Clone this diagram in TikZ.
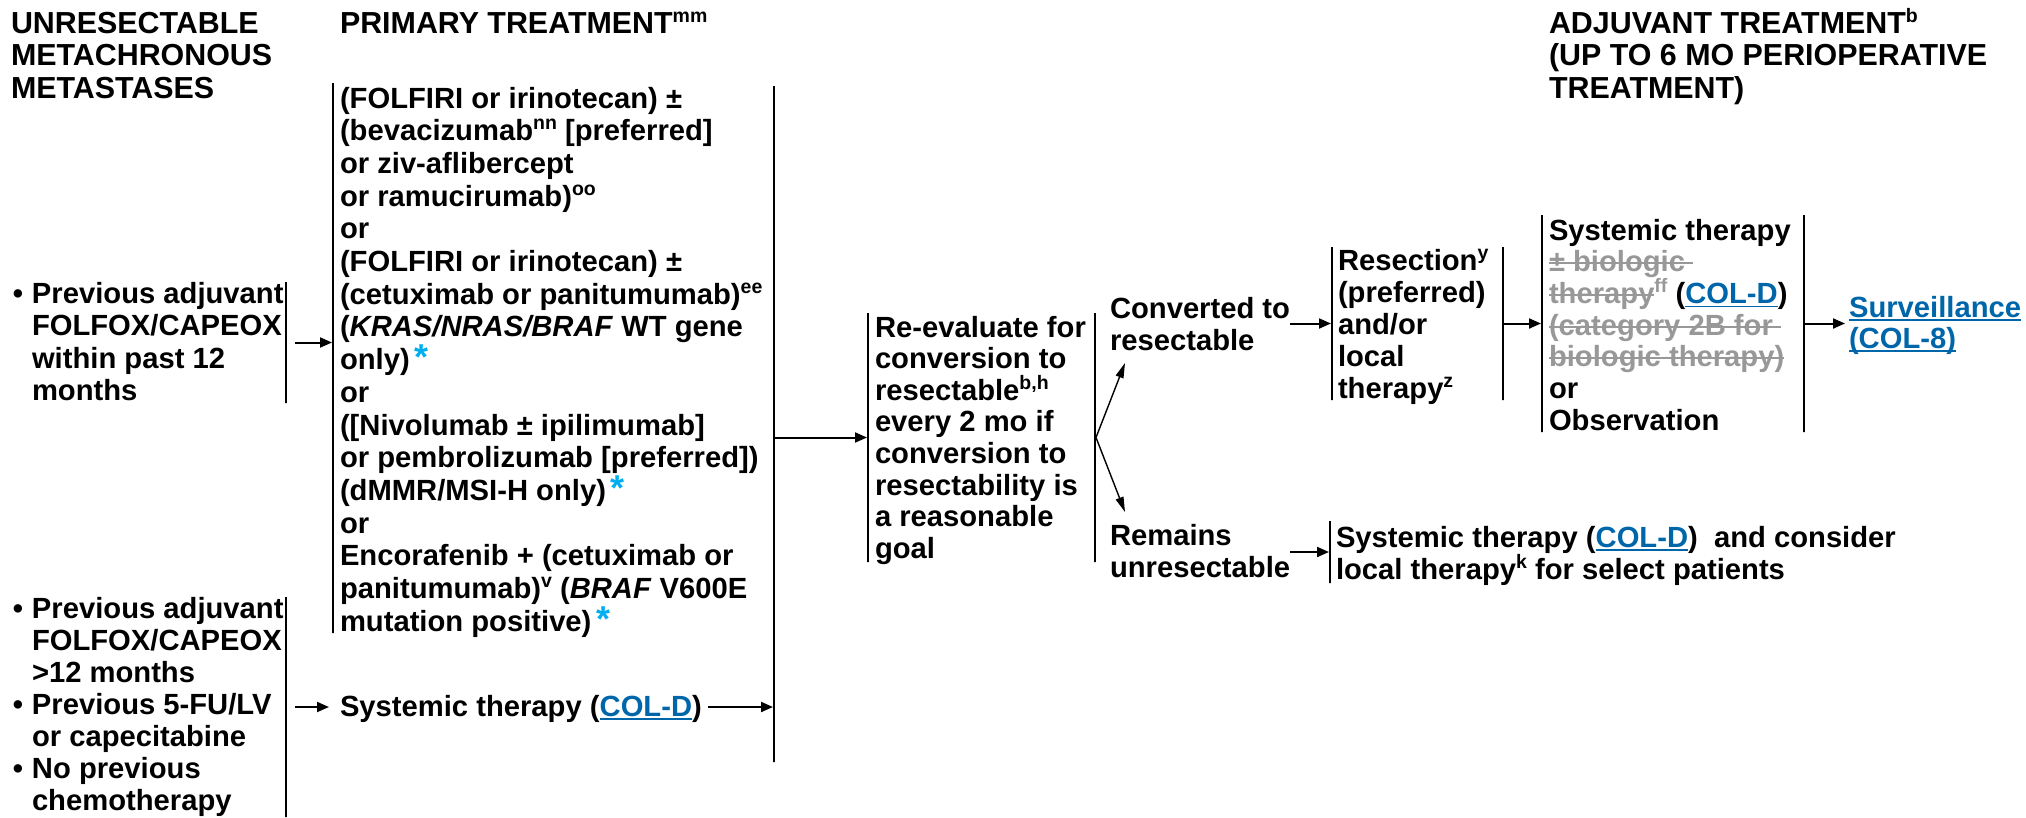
\documentclass[tikz,border=0pt]{standalone}
\usepackage{fontspec}
\setmainfont{Liberation Sans}
\usetikzlibrary{arrows.meta}

\definecolor{linkblue}{RGB}{0,102,170}
\definecolor{starcyan}{RGB}{0,174,239}
\definecolor{strikegray}{RGB}{152,152,152}

% multi-line left-aligned block; its baseline is that of the first line,
% the optional argument is the line pitch
\def\stacksz{29.2}
\newcommand\stack[2][32.5]{\fontsize{\stacksz}{#1}\selectfont\begin{tabular}[t]{@{}l@{}}#2\end{tabular}}
\newcommand\sups[1]{\raisebox{11pt}[0pt][0pt]{\fontsize{19.5}{19.5}\selectfont #1}}
\newcommand\cyanstar{\hspace{5pt}\raisebox{0pt}[0pt][0pt]{\fontsize{36}{36}\selectfont\color{starcyan}*}}
\newcommand\lnk[1]{{\setbox0\hbox{{\color{linkblue}#1}}\rlap{{\color{linkblue}\rule[-4pt]{\wd0}{1.6pt}}}\box0}}
\newcommand\strk[1]{{\color{strikegray}\setbox0\hbox{#1}\rlap{\rule[7.5pt]{\wd0}{2pt}}\box0}}
\newcommand\bul{\llap{•\hspace{9pt}}}

\tikzset{
  txt/.style={anchor=base west, inner sep=0pt, outer sep=0pt,
    font=\bfseries\fontsize{29.2}{32.5}\selectfont},
  head/.style={txt, font=\bfseries\fontsize{30.4}{32.5}\selectfont},
  bar/.style={draw, line width=2pt, minimum width=0pt, inner sep=0pt,
    minimum height=#1},
  arr/.style={draw, line width=2pt, -{Triangle[length=12pt,width=10pt]}},
  slant/.style={draw, line width=1.4pt, -{Triangle[length=15pt,width=8pt]}},
}

\begin{document}
\begin{tikzpicture}[x=1pt,y=-1pt]
\useasboundingbox (0,0) rectangle (2026,817);

% column heads
\node[head] (headA) at (11,33) {\def\stacksz{30.4}\stack[32.5]{UNRESECTABLE\\METACHRONOUS\\METASTASES}};
\node[head] (headB) at (340,33) {PRIMARY TREATMENT\sups{mm}};
\node[head] (headC) at (1549,33) {\def\stacksz{30.4}\stack[32.5]{ADJUVANT TREATMENT\sups{b}\\(UP TO 6 MO PERIOPERATIVE\\TREATMENT)}};

% patients treated within the last 12 months
\node[txt] (grpA) at (32,303) {\stack[32.5]{\bul Previous adjuvant\\FOLFOX/CAPEOX\\within past 12\\months}};
\node[bar=121] (barA) at (286,342.5) {};

% primary regimens
\node[txt] (prim) at (340,108) {\stack[32.7]{%
(FOLFIRI or irinotecan) ±\\
(bevacizumab\sups{nn} [preferred]\\
or ziv-aflibercept\\
or ramucirumab)\sups{oo}\\
or\\
(FOLFIRI or irinotecan) ±\\
(cetuximab or panitumumab)\sups{ee}\\
(\textit{KRAS/NRAS/BRAF} WT gene\\
only)\cyanstar\\
or\\
([Nivolumab ± ipilimumab]\\
or pembrolizumab [preferred])\\
(dMMR/MSI-H only)\cyanstar\\
or\\
Encorafenib + (cetuximab or\\
panitumumab)\sups{v} (\textit{BRAF} V600E\\
mutation positive)\cyanstar}};
\node[bar=550] (primL) at (333,358) {};
\node[bar=676] (primR) at (774,424) {};

% other patients
\node[txt] (grpB) at (32,618) {\stack[32]{\bul Previous adjuvant\\FOLFOX/CAPEOX\\>12 months\\\bul Previous 5-FU/LV\\or capecitabine\\\bul No previous\\chemotherapy}};
\node[bar=220] (barB) at (286,707) {};
\node[txt] (sysA) at (340,716) {Systemic therapy (\lnk{COL-D})};

% re-evaluation
\node[txt] (reval) at (875,337) {\stack[31.6]{Re-evaluate for\\conversion to\\resectable\sups{b,h}\\every 2 mo if\\conversion to\\resectability is\\a reasonable\\goal}};
\node[bar=249] (revL) at (868,437.5) {};
\node[bar=249] (revR) at (1095,437.5) {};

% outcomes
\node[txt] (conv) at (1110,318) {\stack[32]{Converted to\\resectable}};
\node[txt] (rem) at (1110,545) {\stack[32]{Remains\\unresectable}};
\coordinate (upTip) at (1125,363);
\coordinate (dnTip) at (1125,512);

% resection
\node[txt] (resec) at (1338,270) {\stack[32]{Resection\sups{y}\\(preferred)\\and/or\\local\\therapy\sups{z}}};
\node[bar=153] (resL) at (1332,323.5) {};
\node[bar=153] (resR) at (1503,323.5) {};

% adjuvant treatment
\node[txt] (adj) at (1549,240) {\stack[31.7]{Systemic therapy\\
\strk{± biologic }\\
\strk{therapy}\textcolor{strikegray}{\sups{ff}} (\lnk{COL-D})\\
\strk{(category 2B for }\\
\strk{biologic therapy)}\\
or\\
Observation}};
\node[bar=217] (adjL) at (1542,323.5) {};
\node[bar=217] (adjR) at (1804,323.5) {};

\node[txt] (surv) at (1849,317) {\stack[31]{\lnk{Surveillance}\\\lnk{(COL-8)}}};

% unresectable branch
\node[txt] (remsys) at (1336,547) {\stack[32]{Systemic therapy (\lnk{COL-D})\ \ and consider\\local therapy\sups{k} for select patients}};
\node[bar=62] (remL) at (1330,552) {};

% connectors
\draw[arr, shorten <=8pt] (barA.east) -- (barA.east -| primL.west);
\draw[arr, shorten <=8pt, shorten >=11pt] (barB.east) -- (barB.east -| sysA.west);
\draw[arr, shorten <=6pt] (barB.east -| sysA.east) -- (barB.east -| primR.west);
\draw[arr] (revL.west -| primR.east) -- (revL.west);
\draw[slant] (revR.east) -- (upTip);
\draw[slant] (revR.east) -- (dnTip);
\draw[arr] (resL.west -| conv.east) -- (resL.west);
\draw[arr] (remL.west -| rem.east) -- (remL.west);
\draw[arr] (resR.east) -- (resR.east -| adjL.west);
\draw[arr, shorten >=4pt] (adjR.east) -- (adjR.east -| surv.west);
\end{tikzpicture}
\end{document}
